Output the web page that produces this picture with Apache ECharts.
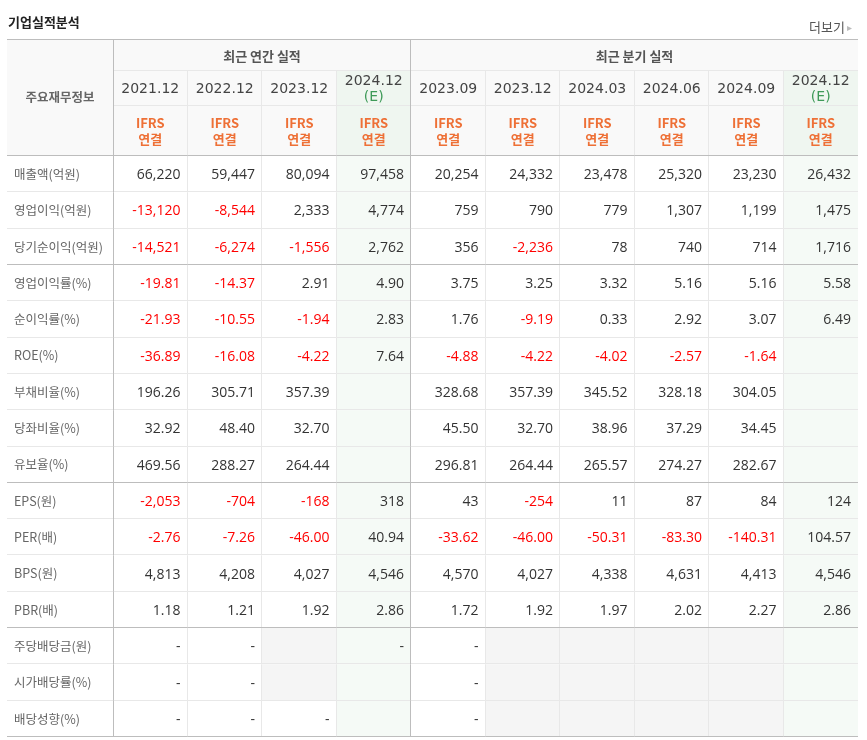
<!DOCTYPE html>
<html>
<head>
<meta charset="utf-8">
<script src="https://cdn.jsdelivr.net/npm/echarts@6/dist/echarts.min.js"></script>
<style>
  html, body { margin: 0; padding: 0; background: #fff; }
  #chart { width: 867px; height: 740px; }
</style>
</head>
<body>
<div id="chart"></div>
<script>
// columns: 4 annual + 6 quarterly
const columns = ['2021.12', '2022.12', '2023.12', '2024.12(E)', '2023.09', '2023.12', '2024.03', '2024.06', '2024.09', '2024.12(E)']
const groupTitles = ['최근 연간 실적', '최근 분기 실적']
const groupSizes = [4, 6]
const basisLabel = ['IFRS', '연결']
const headerLabel = '주요재무정보'

const rowLabels = [
  '매출액(억원)', '영업이익(억원)', '당기순이익(억원)',
  '영업이익률(%)', '순이익률(%)', 'ROE(%)', '부채비율(%)', '당좌비율(%)', '유보율(%)',
  'EPS(원)', 'PER(배)', 'BPS(원)', 'PBR(배)',
  '주당배당금(원)', '시가배당률(%)', '배당성향(%)',
]
const rowDecimals = [0, 0, 0, 2, 2, 2, 2, 2, 2, 0, 2, 0, 2, 0, 2, 2]
const rowGroupEnds = [2, 8, 12, 15]

// null = empty cell, '-' = dash
const sales = [66220, 59447, 80094, 97458, 20254, 24332, 23478, 25320, 23230, 26432]
const opProfit = [-13120, -8544, 2333, 4774, 759, 790, 779, 1307, 1199, 1475]
const netProfit = [-14521, -6274, -1556, 2762, 356, -2236, 78, 740, 714, 1716]
const opMargin = [-19.81, -14.37, 2.91, 4.90, 3.75, 3.25, 3.32, 5.16, 5.16, 5.58]
const netMargin = [-21.93, -10.55, -1.94, 2.83, 1.76, -9.19, 0.33, 2.92, 3.07, 6.49]
const roe = [-36.89, -16.08, -4.22, 7.64, -4.88, -4.22, -4.02, -2.57, -1.64, null]
const debtRatio = [196.26, 305.71, 357.39, null, 328.68, 357.39, 345.52, 328.18, 304.05, null]
const quickRatio = [32.92, 48.40, 32.70, null, 45.50, 32.70, 38.96, 37.29, 34.45, null]
const reserveRatio = [469.56, 288.27, 264.44, null, 296.81, 264.44, 265.57, 274.27, 282.67, null]
const eps = [-2053, -704, -168, 318, 43, -254, 11, 87, 84, 124]
const per = [-2.76, -7.26, -46.00, 40.94, -33.62, -46.00, -50.31, -83.30, -140.31, 104.57]
const bps = [4813, 4208, 4027, 4546, 4570, 4027, 4338, 4631, 4413, 4546]
const pbr = [1.18, 1.21, 1.92, 2.86, 1.72, 1.92, 1.97, 2.02, 2.27, 2.86]
const dps = ['-', '-', null, '-', '-', null, null, null, null, null]
const divYield = ['-', '-', null, null, '-', null, null, null, null, null]
const payout = ['-', '-', '-', null, '-', null, null, null, null, null]

const rows = [sales, opProfit, netProfit, opMargin, netMargin, roe, debtRatio, quickRatio, reserveRatio, eps, per, bps, pbr, dps, divYield, payout]

const colors = {
  text: '#333333',
  neg: '#ff0000',
  label: '#666666',
  date: '#444444',
  est: '#3e9a58',
  basis: '#ee7036',
  headBg: '#f9f9f9',
  estHeadBg: '#eff6f0',
  estBg: '#f5faf6',
  emptyBg: '#f5f5f5',
  line: '#e8e8e8',
  lineDark: '#bdbdbd',
}
const KR = "'Noto Sans CJK KR', sans-serif"
const NUM = "'Open Sans', 'Noto Sans CJK KR', sans-serif"
const tableLeft = 7
const headerEdges = [0, 32, 67, 117]

const isEst = (i) => columns[i].includes('(E)')

function fmt(v, dec) {
  if (v === null) return ''
  if (typeof v === 'string') return v
  return v.toLocaleString('en-US', { minimumFractionDigits: dec, maximumFractionDigits: dec })
}

const cells = []
rows.forEach((vals, r) => vals.forEach((v, c) => cells.push({ c, r, v })))

const px = (v) => Math.round(v) + 0.5

function hLine(x1, x2, y, dark) {
  return { type: 'line', z2: dark ? 6 : 5, shape: { x1, y1: px(y), x2, y2: px(y) }, style: { stroke: dark ? colors.lineDark : colors.line, lineWidth: 1 } }
}
function vLine(x, y1, y2, dark) {
  return { type: 'line', z2: dark ? 6 : 5, shape: { x1: px(x), y1, x2: px(x), y2 }, style: { stroke: dark ? colors.lineDark : colors.line, lineWidth: 1 } }
}

function renderBody(params, api) {
  const cell = cells[params.dataIndex]
  const p = api.coord([cell.c, cell.r])
  const s = api.size([1, 1])
  const x0 = p[0] - s[0] / 2
  const y0 = p[1] - s[1] / 2
  const x1 = x0 + s[0]
  const y1 = y0 + s[1]
  const bg = isEst(cell.c) ? colors.estBg : cell.v === null ? colors.emptyBg : '#ffffff'
  const children = [
    { type: 'rect', z2: 1, shape: { x: x0, y: y0, width: s[0], height: s[1] }, style: { fill: bg } },
    hLine(cell.c === 0 ? tableLeft : x0, x1, y1 - 1, rowGroupEnds.includes(cell.r)),
  ]
  if (cell.c < columns.length - 1) children.push(vLine(x1 - 1, y0, y1, cell.c === groupSizes[0] - 1))
  if (cell.c === 0) children.push(vLine(x0, y0, y1, true))
  const text = fmt(cell.v, rowDecimals[cell.r])
  if (text) {
    children.push({
      type: 'text', z2: 10,
      style: {
        text, x: x1 - 7, y: p[1] + 1, align: 'right', verticalAlign: 'middle',
        fill: typeof cell.v === 'number' && cell.v < 0 ? colors.neg : colors.text,
        font: '14px ' + NUM,
      },
    })
  }
  return { type: 'group', children }
}

function renderHeader(params, api) {
  const i = params.dataIndex
  const w = api.size([1, 0])[0]
  const cx = api.coord([i, 0])[0]
  const x0 = cx - w / 2
  const x1 = x0 + w
  const ys = headerEdges.map((e) => api.coord([i, e])[1])
  const est = isEst(i)
  const bg = est ? colors.estHeadBg : colors.headBg
  const children = []
  // date row + basis row
  children.push({ type: 'rect', z2: 1, shape: { x: x0, y: ys[1], width: w, height: ys[3] - ys[1] }, style: { fill: bg } })
  children.push(hLine(x0, x1, ys[2] - 1, false))
  children.push(hLine(x0, x1, ys[3] - 1, true))
  if (i < columns.length - 1) children.push(vLine(x1 - 1, ys[1], ys[3], i === groupSizes[0] - 1))
  const date = columns[i].replace('(E)', '')
  children.push({
    type: 'text', z2: 10,
    style: {
      text: est ? date + '\n{e|(E)}' : date,
      x: cx, y: (ys[1] + ys[2]) / 2 + 1, align: 'center', verticalAlign: 'middle',
      fill: colors.date, font: '14px ' + "'DejaVu Sans', sans-serif", lineHeight: 16,
      rich: { e: { fill: colors.est, font: '14px ' + "'DejaVu Sans', sans-serif", lineHeight: 16 } },
    },
  })
  children.push({
    type: 'text', z2: 10,
    style: {
      text: basisLabel.join('\n'), x: cx, y: (ys[2] + ys[3]) / 2, align: 'center', verticalAlign: 'middle',
      fill: colors.basis, font: 'bold 13px ' + KR, lineHeight: 16,
    },
  })
  // group title row
  let start = 0
  groupSizes.forEach((n, g) => {
    if (i === start) {
      const gx1 = x0 + w * n
      children.push({ type: 'rect', z2: 1, shape: { x: x0, y: ys[0], width: w * n, height: ys[1] - ys[0] }, style: { fill: colors.headBg } })
      children.push(hLine(x0, gx1, ys[0], true))
      children.push(hLine(x0, gx1, ys[1] - 1, false))
      if (g < groupSizes.length - 1) children.push(vLine(gx1 - 1, ys[0], ys[1], true))
      children.push({
        type: 'text', z2: 10,
        style: { text: groupTitles[g], x: (x0 + gx1) / 2, y: (ys[0] + ys[1]) / 2 + 1, align: 'center', verticalAlign: 'middle', fill: '#555', font: 'bold 13px ' + KR },
      })
    }
    start += n
  })
  // row-label header cell
  if (i === 0) {
    children.push({ type: 'rect', z2: 1, shape: { x: tableLeft, y: ys[0], width: x0 - tableLeft, height: ys[3] - ys[0] }, style: { fill: colors.headBg } })
    children.push(hLine(tableLeft, x0, ys[0], true))
    children.push(hLine(tableLeft, x0, ys[3] - 1, true))
    children.push(vLine(x0, ys[0], ys[3], true))
    children.push({
      type: 'text', z2: 10,
      style: { text: headerLabel, x: (tableLeft + x0) / 2, y: (ys[0] + ys[3]) / 2, align: 'center', verticalAlign: 'middle', fill: '#666', font: 'bold 12.5px ' + KR },
    })
  }
  return { type: 'group', children }
}

const hiddenAxis = { axisLine: { show: false }, axisTick: { show: false }, axisLabel: { show: false }, splitLine: { show: false } }

const option = {
  animation: false,
  title: [
    { text: '기업실적분석', left: 3, top: 11, textStyle: { fontFamily: KR, fontSize: 13, fontWeight: 'bold', color: '#222' } },
    {
      text: '더보기{a|▸}', right: 10, top: 16,
      textStyle: { fontFamily: KR, fontSize: 13, fontWeight: 'normal', color: '#555', rich: { a: { color: '#bbb', fontSize: 10, padding: [0, 0, 0, 2] } } },
    },
  ],
  grid: [
    { left: 113, right: 9, top: 156, bottom: 3 },
    { left: 113, right: 9, top: 39, height: 117 },
  ],
  xAxis: [
    { type: 'category', gridIndex: 0, data: columns, ...hiddenAxis },
    { type: 'category', gridIndex: 1, data: columns, ...hiddenAxis },
  ],
  yAxis: [
    {
      type: 'category', gridIndex: 0, data: rowLabels, inverse: true,
      axisLine: { show: false }, axisTick: { show: false }, splitLine: { show: false },
      axisLabel: { align: 'left', margin: 99, color: colors.label, fontSize: 12.5, fontFamily: KR },
    },
    { type: 'value', gridIndex: 1, min: 0, max: headerEdges[headerEdges.length - 1], inverse: true, ...hiddenAxis },
  ],
  series: [
    {
      type: 'custom', xAxisIndex: 0, yAxisIndex: 0,
      data: cells.map((d) => [d.c, d.r]),
      renderItem: renderBody,
    },
    {
      type: 'custom', xAxisIndex: 1, yAxisIndex: 1,
      data: columns.map((_, i) => [i, 0]),
      renderItem: renderHeader,
    },
  ],
}

const chart = echarts.init(document.getElementById('chart'))
chart.setOption(option)
</script>
</body>
</html>
